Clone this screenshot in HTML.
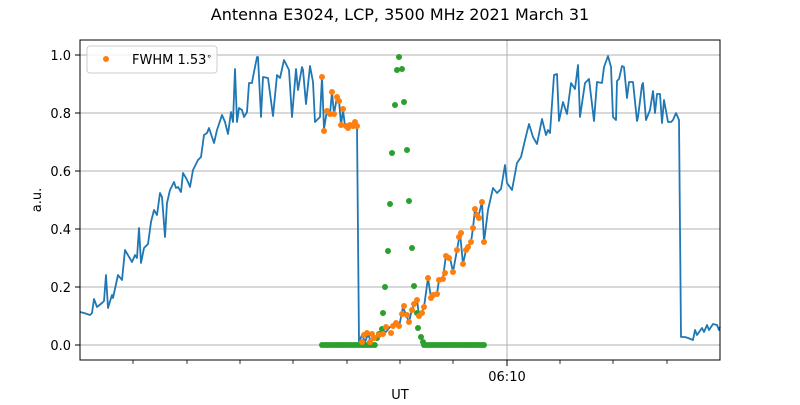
<!DOCTYPE html>
<html><head><meta charset="utf-8"><style>
body{margin:0;background:#fff}
svg text{font-family:"DejaVu Sans","Liberation Sans",sans-serif;}
</style></head><body>
<svg id="s" width="800" height="400" xmlns="http://www.w3.org/2000/svg">
<rect width="800" height="400" fill="#fff"/>
<text x="400" y="20" font-size="16" text-anchor="middle">Antenna E3024, LCP, 3500 MHz 2021 March 31</text>
<g stroke="#b0b0b0" stroke-width="1">
<line x1="80" x2="720" y1="345" y2="345"/><line x1="80" x2="720" y1="287" y2="287"/>
<line x1="80" x2="720" y1="229" y2="229"/><line x1="80" x2="720" y1="171" y2="171"/>
<line x1="80" x2="720" y1="113" y2="113"/><line x1="80" x2="720" y1="55" y2="55"/>
<line x1="507" x2="507" y1="40" y2="360"/>
</g>
<g font-size="13" text-anchor="end">
<text x="71" y="350">0.0</text><text x="71" y="292">0.2</text><text x="71" y="234">0.4</text>
<text x="71" y="176">0.6</text><text x="71" y="118">0.8</text><text x="71" y="60">1.0</text>
</g>
<g stroke="#000" stroke-width="1">
<line x1="75" x2="80" y1="345" y2="345"/><line x1="75" x2="80" y1="287" y2="287"/>
<line x1="75" x2="80" y1="229" y2="229"/><line x1="75" x2="80" y1="171" y2="171"/>
<line x1="75" x2="80" y1="113" y2="113"/><line x1="75" x2="80" y1="55" y2="55"/>
<line x1="507" x2="507" y1="360" y2="366"/>
</g>
<g id="minor" stroke="#000" stroke-width="0.8"></g>
<text x="507" y="381" font-size="13" text-anchor="middle">06:10</text>
<text x="400" y="399" font-size="13" text-anchor="middle">UT</text>
<text x="41" y="200" font-size="13" text-anchor="middle" transform="rotate(-90 41 200)">a.u.</text>
<polyline fill="none" stroke="#1f77b4" stroke-width="1.8" stroke-linejoin="round" points="80,312 84,313 90,315 92,313 94,299 97,307 102,303 104,301 106,275 108,308 112,295 113,298 118,275 122,280 125,250 132,262 135,255 137,258 139,228 141,263 144,248 148,244 151,222 154,210 157,215 160,193 162,197 165,237 167,203 170,190 174,182 176,188 178,187 181,192 183,173 186,178 188,182 190,187 193,170 198,160 201,157 204,135 207,133 209,128 214,143 217,130 222,115 225,122 228,134 231,112 233,122 235,69 237,122 239,108 242,110 244,117 247,112 249,83 252,83 253,77 257,57 258,57 261,117 263,77 268,78 273,116 277,75 280,78 284,60 289,70 292,117 296,69 298,90 302,67 303,70 306,104 310,66 313,82 315,122 320,117 322,77 324,129 327,110 330,114 332,92 334,114 337,97 339,100 341,125 343,110 345,126 348,128 350,124 352,127 355,122 357,126 359,342 362,335 365,342 368,334 371,342 374,337 378,335 382,330 386,332 390,327 393,325 397,322 399,327 403,307 406,315 409,322 412,309 415,303 417,300 419,315 422,312 424,307 428,278 431,298 433,295 437,294 439,280 443,278 446,255 450,258 453,272 457,250 460,233 463,264 466,250 471,242 473,228 475,209 478,218 482,202 484,242 488,210 493,188 497,193 501,189 505,165 507,183 512,190 517,163 521,157 526,136 529,124 533,137 537,144 542,119 546,135 548,130 550,133 554,75 557,74 559,121 563,102 567,114 571,83 575,89 578,65 580,117 585,83 589,79 594,121 597,82 602,83 604,67 608,56 611,67 613,117 616,120 617,81 619,79 622,66 624,67 627,98 629,82 633,82 637,121 638,117 642,85 643,83 646,120 650,110 653,91 655,113 657,94 660,94 662,123 664,100 668,122 671,122 673,120 676,113 679,120 681,337 685,337 688,338 693,340 695,330 697,335 702,328 704,332 707,325 709,330 713,324 717,325 719,330 720,327"/>
<g id="gr" fill="#2ca02c"></g>
<g id="or" fill="#ff7f0e"></g>
<rect x="80" y="40" width="640" height="320" fill="none" stroke="#000" stroke-width="1"/>
<rect x="87" y="46" width="130" height="27" rx="3" fill="#fff" fill-opacity="0.8" stroke="#ccc"/>
<circle cx="106" cy="59" r="3" fill="#ff7f0e"/>
<text x="132" y="64" font-size="13">FWHM 1.53<tspan font-size="9" dy="-5">∘</tspan></text>
</svg>
<script>
var ns="http://www.w3.org/2000/svg";
function c(g,x,y){var e=document.createElementNS(ns,"circle");e.setAttribute("cx",x);e.setAttribute("cy",y);e.setAttribute("r",3);document.getElementById(g).appendChild(e);}
var m=document.getElementById("minor");
[133,187,240,293,347,400,453,560,613,667].forEach(function(x){var l=document.createElementNS(ns,"line");l.setAttribute("x1",x);l.setAttribute("x2",x);l.setAttribute("y1",360);l.setAttribute("y2",364);m.appendChild(l);});
for(var x=322;x<=376;x+=2.4)c("gr",x,345);
for(var x=424;x<=486;x+=2.4)c("gr",x,345);
[[377,338],[379,334],[382,329],[383,313],[385,287],[388,251],[390,204],[392,153],[395,105],[397,70],[399,57],[402,69],[404,102],[407,150],[409,201],[412,248],[414,286],[417,313],[418,328],[421,337],[423,342]].forEach(function(p){c("gr",p[0],p[1]);});
[[322,77],[324,131],[327,111],[330,114],[332,92],[334,114],[337,97],[339,101],[341,125],[343,109],[346,126],[348,128],[350,125],[353,126],[355,122],[357,126],[362,342],[364,335],[367,333],[370,342],[372,334],[374,338],[379,335],[383,334],[386,327],[391,333],[393,326],[396,323],[399,326],[402,314],[404,306],[407,315],[409,322],[412,310],[414,304],[417,300],[419,316],[422,313],[424,307],[428,278],[431,298],[433,295],[437,294],[439,280],[443,279],[445,273],[446,256],[449,258],[453,272],[457,250],[459,237],[461,233],[463,264],[466,250],[468,247],[471,242],[473,228],[475,209],[477,215],[479,218],[482,202],[484,242]].forEach(function(p){c("or",p[0],p[1]);});
</script>
</body></html>
